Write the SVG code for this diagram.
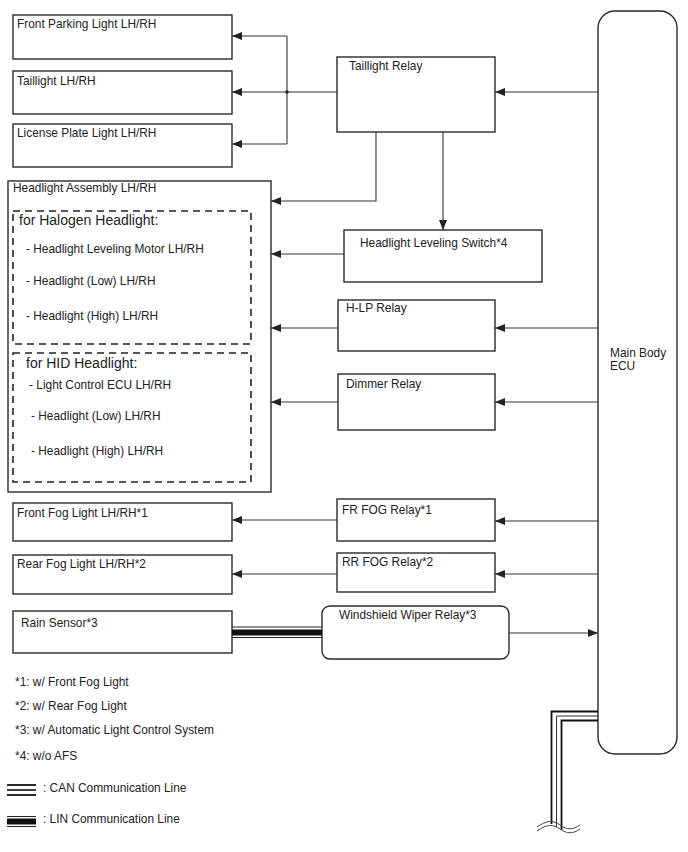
<svg xmlns="http://www.w3.org/2000/svg" width="688" height="852" viewBox="0 0 688 852">
<style>
.box{fill:#fff;stroke:#2a2a2a;stroke-width:1.4}
.dash{fill:none;stroke:#222;stroke-width:1.6;stroke-dasharray:7,5}
.t{font-family:"Liberation Sans",Arial,sans-serif;font-size:11.9px;fill:#222}
.tb{font-family:"Liberation Sans",Arial,sans-serif;font-size:14px;fill:#222}
.ln{fill:none;stroke:#333;stroke-width:1.1}
.ah{fill:#222}
</style>
<defs>
<marker id="arr" viewBox="0 0 10 8" refX="10" refY="4" markerWidth="10" markerHeight="8" markerUnits="userSpaceOnUse" orient="auto">
<path d="M0,0 L10,4 L0,8 Z" class="ah"/>
</marker>
</defs>

<g id="main-body-ecu">
<rect class="box" x="598" y="11" width="79" height="743" rx="17"/>
<text class="t" x="610" y="357">Main Body</text>
<text class="t" x="610" y="370">ECU</text>
</g>
<g id="front-parking-light">
<rect class="box" x="13" y="15" width="219" height="44"/>
<text class="t" x="17" y="28">Front Parking Light LH/RH</text>
</g>
<g id="taillight">
<rect class="box" x="13" y="71" width="219" height="43"/>
<text class="t" x="17" y="85">Taillight LH/RH</text>
</g>
<g id="license-plate-light">
<rect class="box" x="13" y="124" width="219" height="43"/>
<text class="t" x="17" y="137">License Plate Light LH/RH</text>
</g>
<g id="taillight-relay">
<rect class="box" x="337" y="57" width="158" height="75"/>
<text class="t" x="349" y="70">Taillight Relay</text>
</g>
<g id="headlight-assembly">
<rect class="box" x="8" y="181" width="263" height="311"/>
<text class="t" x="13" y="192">Headlight Assembly LH/RH</text>
<rect class="dash" x="13" y="211" width="238" height="133"/>
<text class="tb" x="19" y="225">for Halogen Headlight:</text>
<text class="t" x="26" y="253">- Headlight Leveling Motor LH/RH</text>
<text class="t" x="26" y="285">- Headlight (Low) LH/RH</text>
<text class="t" x="26" y="320">- Headlight (High) LH/RH</text>
<rect class="dash" x="13" y="353" width="238" height="129"/>
<text class="tb" x="26" y="368">for HID Headlight:</text>
<text class="t" x="29" y="389">- Light Control ECU LH/RH</text>
<text class="t" x="31" y="420">- Headlight (Low) LH/RH</text>
<text class="t" x="31" y="455">- Headlight (High) LH/RH</text>
</g>
<g id="headlight-leveling-switch">
<rect class="box" x="344" y="230" width="198" height="52"/>
<text class="t" x="360" y="247">Headlight Leveling Switch*4</text>
</g>
<g id="h-lp-relay">
<rect class="box" x="338" y="300" width="157" height="51"/>
<text class="t" x="346" y="312">H-LP Relay</text>
</g>
<g id="dimmer-relay">
<rect class="box" x="338" y="374" width="157" height="56"/>
<text class="t" x="346" y="388">Dimmer Relay</text>
</g>
<g id="front-fog-light">
<rect class="box" x="13" y="503" width="219" height="38"/>
<text class="t" x="17" y="517">Front Fog Light LH/RH*1</text>
</g>
<g id="rear-fog-light">
<rect class="box" x="13" y="555" width="219" height="39"/>
<text class="t" x="17" y="568">Rear Fog Light LH/RH*2</text>
</g>
<g id="rain-sensor">
<rect class="box" x="13" y="611" width="219" height="42"/>
<text class="t" x="21" y="627">Rain Sensor*3</text>
</g>
<g id="fr-fog-relay">
<rect class="box" x="337" y="499" width="158" height="42"/>
<text class="t" x="342" y="514">FR FOG Relay*1</text>
</g>
<g id="rr-fog-relay">
<rect class="box" x="337" y="553" width="158" height="39"/>
<text class="t" x="342" y="566">RR FOG Relay*2</text>
</g>
<g id="windshield-wiper-relay">
<rect class="box" x="322" y="606" width="187" height="53" rx="8"/>
<text class="t" x="339" y="619">Windshield Wiper Relay*3</text>
</g>

<g id="connectors">
<line class="ln" x1="598" y1="92" x2="495" y2="92" marker-end="url(#arr)"/>
<line class="ln" x1="337" y1="92" x2="232" y2="92" marker-end="url(#arr)"/>
<polyline class="ln" points="287,36 287,144"/>
<line class="ln" x1="287" y1="36" x2="232" y2="36" marker-end="url(#arr)"/>
<line class="ln" x1="287" y1="144" x2="232" y2="144" marker-end="url(#arr)"/>
<circle cx="287" cy="92" r="1.8" fill="#222"/>
<polyline class="ln" points="376,132 376,201 271,201" marker-end="url(#arr)"/>
<line class="ln" x1="443" y1="132" x2="443" y2="230" marker-end="url(#arr)"/>
<line class="ln" x1="344" y1="254" x2="271" y2="254" marker-end="url(#arr)"/>
<line class="ln" x1="598" y1="328" x2="495" y2="328" marker-end="url(#arr)"/>
<line class="ln" x1="338" y1="328" x2="271" y2="328" marker-end="url(#arr)"/>
<line class="ln" x1="598" y1="402" x2="495" y2="402" marker-end="url(#arr)"/>
<line class="ln" x1="338" y1="402" x2="271" y2="402" marker-end="url(#arr)"/>
<line class="ln" x1="598" y1="521" x2="495" y2="521" marker-end="url(#arr)"/>
<line class="ln" x1="337" y1="520" x2="232" y2="520" marker-end="url(#arr)"/>
<line class="ln" x1="598" y1="574" x2="495" y2="574" marker-end="url(#arr)"/>
<line class="ln" x1="337" y1="574" x2="232" y2="574" marker-end="url(#arr)"/>
<line class="ln" x1="509" y1="633" x2="598" y2="633" marker-end="url(#arr)"/>
<!-- LIN line -->
<line x1="232" y1="627" x2="322" y2="627" stroke="#222" stroke-width="1"/>
<rect x="232" y="629.5" width="90" height="6" fill="#111"/>
<line x1="232" y1="637.5" x2="322" y2="637.5" stroke="#222" stroke-width="1"/>
<!-- CAN lines -->
<polyline points="598,711.5 551.5,711.5 551.5,824" fill="none" stroke="#111" stroke-width="1.8"/>
<polyline points="598,716 556.5,716 556.5,827" fill="none" stroke="#333" stroke-width="1"/>
<polyline points="598,720.5 561.5,720.5 561.5,830" fill="none" stroke="#111" stroke-width="1.8"/>
<path d="M537,827 C547,820 553,820 560,825 C567,830 573,830 580,825" fill="none" stroke="#444" stroke-width="1"/>
<path d="M537,831 C547,824 553,824 560,829 C567,834 573,834 580,829" fill="none" stroke="#444" stroke-width="1"/>
</g>

<g id="legend">
<text class="t" x="15" y="686">*1: w/ Front Fog Light</text>
<text class="t" x="15" y="710">*2: w/ Rear Fog Light</text>
<text class="t" x="15" y="734">*3: w/ Automatic Light Control System</text>
<text class="t" x="15" y="760">*4: w/o AFS</text>
<line x1="7" y1="785" x2="36" y2="785" stroke="#111" stroke-width="1.8"/>
<line x1="7" y1="790" x2="36" y2="790" stroke="#111" stroke-width="1.6"/>
<line x1="7" y1="795" x2="36" y2="795" stroke="#111" stroke-width="1.8"/>
<text class="t" x="43" y="792">: CAN Communication Line</text>
<line x1="7" y1="816.5" x2="36" y2="816.5" stroke="#222" stroke-width="1"/>
<rect x="7" y="818.5" width="29" height="6" fill="#111"/>
<line x1="7" y1="826.5" x2="36" y2="826.5" stroke="#222" stroke-width="1"/>
<text class="t" x="43" y="823">: LIN Communication Line</text>
</g>
</svg>
